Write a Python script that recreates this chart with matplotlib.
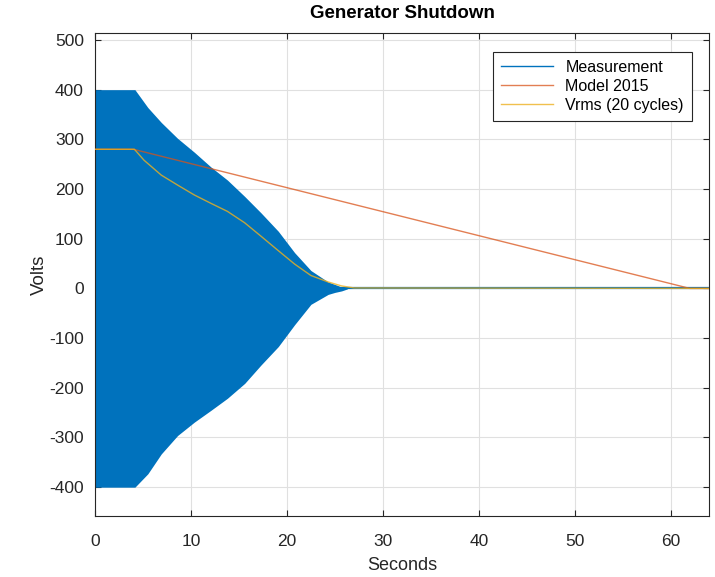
"""Generator shutdown: measured voltage envelope, Vrms and the 2015 model (MATLAB look)."""

import matplotlib

matplotlib.use("Agg")
import matplotlib.pyplot as plt  # noqa: E402

env_t = [0.0, 4.15, 5.5, 6.9, 8.6, 10.35, 12.1, 13.8, 15.6, 17.3, 19.1, 20.8, 22.5, 24.3, 25.0, 25.7, 26.3]
env_hi = [400, 400, 364, 334, 302, 274, 244, 218, 185, 152, 115, 72, 36, 13, 8, 3, 1]
env_lo = [-400, -400, -373, -333, -296, -269, -245, -221, -191, -154, -117, -73, -32, -12, -8, -5, -1]
# measurement after it has died out
meas_t = [25.7, 64.0]
meas_v = [0, 0]

# Vrms (20 cycles)
vrms_t = [0.0, 4.1, 5.1, 6.9, 8.6, 10.35, 12.1, 13.8, 15.6, 17.3, 19.1, 20.8, 22.5, 24.3, 25.7, 27.0, 64.0]
vrms_v = [280, 280, 258, 228, 208, 188, 171, 155, 132, 105, 76, 49, 26, 13, 5, 1, 0]

# Model 2015
model_t = [0.0, 4.0, 62.0, 64.0]
model_v = [280, 280, 0, 0]

BLUE = "#0072BD"
ORANGE = "#D95319"
YELLOW = "#EDB120"

plt.rcParams["font.family"] = ["Liberation Sans", "DejaVu Sans"]
plt.rcParams["axes.unicode_minus"] = False

fig = plt.figure(figsize=(7.15, 5.77), dpi=100)
ax = fig.add_axes([0.133, 0.1057, 0.8586, 0.8371])

ax.fill_between(env_t, env_lo, env_hi, color=BLUE, linewidth=0, zorder=2)
ax.plot(meas_t, meas_v, color=BLUE, linewidth=1.6, label="Measurement", zorder=2)
ax.plot(model_t, model_v, color=ORANGE, linewidth=1.0, alpha=0.75, label="Model 2015", zorder=3)
ax.plot(vrms_t, vrms_v, color=YELLOW, linewidth=1.0, alpha=0.8, label="Vrms (20 cycles)", zorder=4)

ax.set_xlim(0, 64)
ax.set_ylim(-458, 514)
ax.set_xticks(range(0, 61, 10))
ax.set_yticks(range(-400, 501, 100))

ax.grid(True, color="0.88", linewidth=0.8)
ax.set_axisbelow(True)
ax.tick_params(direction="in", top=True, right=True, length=4, labelsize=12.5,
               colors="0.15")
ax.tick_params(axis="x", pad=13)
ax.tick_params(axis="y", pad=8)
for sp in ax.spines.values():
    sp.set_color("0.15")
    sp.set_linewidth(0.8)

ax.set_xlabel("Seconds", fontsize=13, color="0.15", labelpad=6)
ax.set_ylabel("Volts", fontsize=13.5, color="0.15", labelpad=1)
ax.set_title("Generator Shutdown", fontsize=13.5, fontweight="bold", pad=11)

leg = ax.legend(loc="upper right", bbox_to_anchor=(0.972, 0.961), borderaxespad=0,
                fontsize=11.5, fancybox=False, framealpha=1, edgecolor="0.15",
                handlelength=3.2, labelspacing=0.25, borderpad=0.5)
leg.get_frame().set_linewidth(0.8)
leg.legend_handles[0].set_linewidth(1.0)

fig.savefig("out.png", dpi=100)
